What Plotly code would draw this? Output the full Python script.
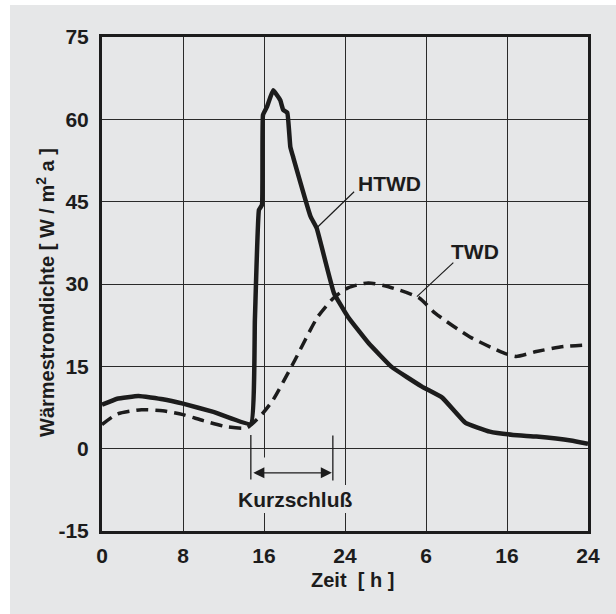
import plotly.graph_objects as go

# ---- data ----
x_tick_vals = [0, 8, 16, 24, 32, 40, 48]
x_tick_text = ["0", "8", "16", "24", "6", "16", "24"]
y_tick_vals = [-15, 0, 15, 30, 45, 60, 75]
y_tick_text = ["-15", "0", "15", "30", "45", "60", "75"]

htwd_x = [0, 1.5, 3.6, 6, 8, 11, 14.7, 15.1, 15.5, 15.8, 15.9, 16.3, 16.9, 17.6, 17.9, 18.3, 18.6, 18.9,
          20.6, 21.2, 22.9, 24.3, 26.3, 28.6, 31.6, 33.6, 35.9, 38.3, 40.6, 42.9, 46.3, 48]
htwd_y = [8.0, 9.1, 9.6, 9.0, 8.2, 6.7, 4.5, 23.5, 43.5, 44.4, 60.8, 62.3, 65.3, 63.5, 61.7, 61.2, 55, 53,
          42.3, 40.2, 28.4, 24.0, 19.3, 14.9, 11.3, 9.3, 4.7, 3.1, 2.5, 2.2, 1.5, 0.9]

twd_x = [0, 1.5, 3.9, 6, 8, 10, 12.3, 14.3, 15.9, 16.9, 18.9, 21.3, 22.9, 24.3, 26.3, 28.3, 31.3, 32.9,
         36.3, 39.6, 40.9, 42.9, 45.6, 48]
twd_y = [4.4, 6.3, 7.1, 6.9, 6.2, 5.1, 4.0, 3.8, 6.5, 8.9, 15.6, 24.0, 27.5, 29.3, 30.2, 29.5, 27.5, 24.7,
         20.4, 17.5, 16.8, 17.7, 18.6, 18.9]

BG = "#e6e7e8"
INK = "#1c1c1c"
FONT = "Liberation Sans"
PW, PH = 486, 494  # plot area size in px

fig = go.Figure()
fig.add_trace(go.Scatter(x=htwd_x, y=htwd_y, mode="lines", name="HTWD",
                         line=dict(color=INK, width=4.5, shape="spline", smoothing=0.3)))
fig.add_trace(go.Scatter(x=twd_x, y=twd_y, mode="lines", name="TWD",
                         line=dict(color=INK, width=3.5, dash="12px,7px", shape="spline", smoothing=0.6)))

shapes = [
    # white strips at top and left of the gray panel
    dict(type="rect", xref="paper", yref="paper", x0=-102 / PW, x1=-92 / PW,
         y0=-83 / PH, y1=1 + 37 / PH, fillcolor="white", line=dict(width=0), layer="below"),
    dict(type="rect", xref="paper", yref="paper", x0=-102 / PW, x1=1 + 28 / PW,
         y0=1 + 32 / PH, y1=1 + 37 / PH, fillcolor="white", line=dict(width=0), layer="below"),
    # boxes hiding gridlines behind the Kurzschluss marker
    dict(type="rect", x0=15.0, x1=22.6, y0=-6.6, y1=-1.6, fillcolor=BG, line=dict(width=0), layer="between"),
    dict(type="rect", x0=12.5, x1=25.5, y0=-11.7, y1=-6.6, fillcolor=BG, line=dict(width=0), layer="between"),
    # Kurzschluss vertical markers
    dict(type="line", x0=14.7, x1=14.7, y0=2.5, y1=-5.6, line=dict(color=INK, width=1.3), layer="above"),
    dict(type="line", x0=22.8, x1=22.8, y0=2.4, y1=-5.8, line=dict(color=INK, width=1.3), layer="above"),
    # leader lines
    dict(type="line", x0=24.9, y0=46.8, x1=21.2, y1=40.2, line=dict(color=INK, width=1.2), layer="above"),
    dict(type="line", x0=34.7, y0=33.9, x1=31.1, y1=27.7, line=dict(color=INK, width=1.2), layer="above"),
]

annotations = [
    dict(x=22.7, y=-4.4, ax=14.8, ay=-4.4, xref="x", yref="y", axref="x", ayref="y",
         showarrow=True, arrowhead=2, arrowsize=1.7, arrowwidth=1.3, arrowside="end+start",
         arrowcolor=INK, text=""),
    dict(x=19.1, y=-9.3, text="<b>Kurzschluß</b>", showarrow=False,
         font=dict(family=FONT, size=21, color=INK)),
    dict(x=28.4, y=48.4, text="<b>HTWD</b>", showarrow=False,
         font=dict(family=FONT, size=21, color=INK)),
    dict(x=36.8, y=36.0, text="<b>TWD</b>", showarrow=False,
         font=dict(family=FONT, size=21, color=INK)),
    dict(xref="paper", yref="paper", x=(45 - 102) / PW, y=(531 - 293) / PH,
         xanchor="center", yanchor="middle",
         text="<b>Wärmestromdichte [ W / m<sup>2</sup> a ]</b>", textangle=-90, showarrow=False,
         font=dict(family=FONT, size=20, color=INK)),
    dict(xref="paper", yref="paper", x=(352 - 102) / PW, y=(531 - 580) / PH,
         xanchor="center", yanchor="middle",
         text="<b>Zeit\u00a0\u00a0[\u00a0h\u00a0]</b>", showarrow=False,
         font=dict(family=FONT, size=20, color=INK)),
]

fig.update_layout(
    width=616, height=614,
    margin=dict(l=102, r=28, t=37, b=83),
    paper_bgcolor=BG, plot_bgcolor=BG,
    showlegend=False,
    shapes=shapes, annotations=annotations,
    font=dict(family=FONT, color=INK),
)
fig.update_xaxes(range=[0, 48], tickvals=x_tick_vals, ticktext=x_tick_text,
                 showgrid=True, gridcolor="#2a2a2a", gridwidth=1.3, zeroline=False,
                 showline=True, mirror=True, linecolor=INK, linewidth=3,
                 ticks="", ticklabelstandoff=4,
                 tickfont=dict(family=FONT, size=21, color=INK, weight="bold"))
fig.update_yaxes(range=[-15, 75], tickvals=y_tick_vals, ticktext=y_tick_text,
                 showgrid=True, gridcolor="#2a2a2a", gridwidth=1.3, zeroline=False,
                 showline=True, mirror=True, linecolor=INK, linewidth=3,
                 ticks="", ticklabelstandoff=6,
                 tickfont=dict(family=FONT, size=21, color=INK, weight="bold"))

fig.write_html("out.html", config={"displayModeBar": False},
               post_script="document.body.style.margin='0';")
